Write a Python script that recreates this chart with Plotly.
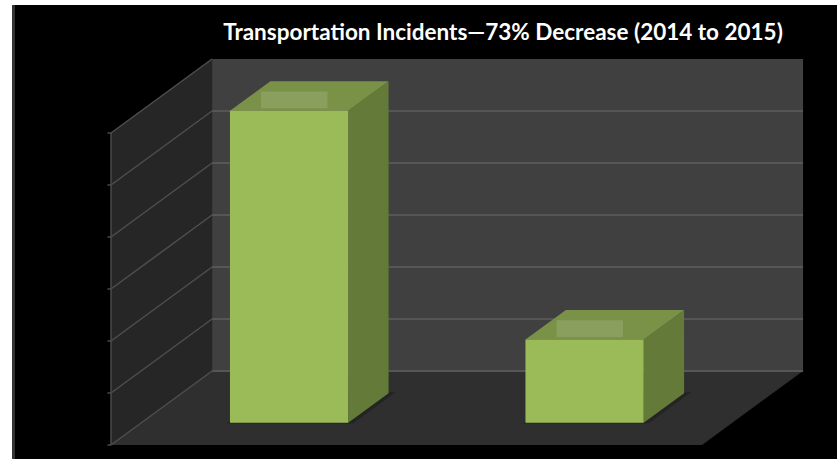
import plotly.graph_objects as go

# Data
categories = ["2014", "2015"]
incidents = [30, 8]
axis_ticks = [0, 5, 10, 15, 20, 25, 30]
title_text = "Transportation Incidents\u201473% Decrease (2014 to 2015)"

# Oblique 3D projection: depth z in [0, 1] (0 = front, 1 = back)
DX = 0.342   # horizontal shift per full depth (category units)
DY = 7.115   # vertical shift per full depth (value units)
Z0, Z1 = 0.30, 0.70   # bar depth extent
HALF_W = 0.20         # bar half width (category units)
Y_MAX = axis_ticks[-1]
N_CAT = len(categories)


def proj(x, y, z):
    return x + DX * z, y + DY * z


def poly(points, color, name):
    xs, ys = [], []
    for (x, y, z) in points:
        px, py = proj(x, y, z)
        xs.append(px)
        ys.append(py)
    xs.append(xs[0])
    ys.append(ys[0])
    return go.Scatter(x=xs, y=ys, mode="lines", fill="toself", fillcolor=color,
                      line=dict(width=0, color=color), hoverinfo="skip",
                      showlegend=False, name=name)


def seg_trace(segments, color, width):
    xs, ys = [], []
    for (a, b) in segments:
        p = proj(*a)
        q = proj(*b)
        xs += [p[0], q[0], None]
        ys += [p[1], q[1], None]
    return go.Scatter(x=xs, y=ys, mode="lines", line=dict(color=color, width=width),
                      hoverinfo="skip", showlegend=False)


fig = go.Figure()

# Walls and floor
fig.add_trace(poly([(0, 0, 1), (N_CAT, 0, 1), (N_CAT, Y_MAX, 1), (0, Y_MAX, 1)], "#404040", "back wall"))
fig.add_trace(poly([(0, 0, 0), (0, 0, 1), (0, Y_MAX, 1), (0, Y_MAX, 0)], "#262626", "side wall"))
fig.add_trace(poly([(0, 0, 0), (N_CAT, 0, 0), (N_CAT, 0, 1), (0, 0, 1)], "#2f2f2f", "floor"))

# Gridlines on the back wall and the side wall
back_grid = [((0, t, 1), (N_CAT, t, 1)) for t in axis_ticks[:-1]]
side_grid = [((0, t, 0), (0, t, 1)) for t in axis_ticks]
fig.add_trace(seg_trace(back_grid, "#565656", 2))
fig.add_trace(seg_trace(side_grid, "#4e4e4e", 1.5))

# Value axis line with tick marks
axis_segs = [((0, 0, 0), (0, Y_MAX, 0))] + [((-0.012, t, 0), (0, t, 0)) for t in axis_ticks]
fig.add_trace(seg_trace(axis_segs, "#4a4a4a", 1.5))

# Bars
FRONT = "#9bbb59"
SIDE = "#647a39"
TOP = "#7a9247"
HIGHLIGHT = "#8a9e5e"
for i, v in enumerate(incidents):
    c = i + 0.5
    xl, xr = c - HALF_W, c + HALF_W
    # soft shadow on the floor
    fig.add_trace(poly([(xl - 0.008, 0, Z0 - 0.01), (xr + 0.02, 0, Z0 - 0.01),
                        (xr + 0.02, 0, Z1 + 0.015), (xl - 0.008, 0, Z1 + 0.015)],
                       "rgba(0,0,0,0.22)", "shadow"))
    fig.add_trace(poly([(xr, 0, Z0), (xr, 0, Z1), (xr, v, Z1), (xr, v, Z0)], SIDE, categories[i]))
    fig.add_trace(poly([(xl, v, Z0), (xr, v, Z0), (xr, v, Z1), (xl, v, Z1)], TOP, categories[i]))
    # highlight patch on the top face
    fx, fy = proj(xl, v, Z0)
    fig.add_trace(go.Scatter(
        x=[fx + 0.105, fx + 0.33, fx + 0.33, fx + 0.105, fx + 0.105],
        y=[fy + 0.25, fy + 0.25, fy + 1.85, fy + 1.85, fy + 0.25],
        mode="lines", fill="toself", fillcolor=HIGHLIGHT, line=dict(width=0),
        hoverinfo="skip", showlegend=False))
    fig.add_trace(poly([(xl, 0, Z0), (xr, 0, Z0), (xr, v, Z0), (xl, v, Z0)], FRONT, categories[i]))

# Pixel-consistent axis ranges (plot area is 825 x 454 px)
PX_PER_CAT = 295.5
PX_PER_VAL = 10.4
x_lo = -99 / PX_PER_CAT
x_hi = x_lo + 825 / PX_PER_CAT
y_lo = -14 / PX_PER_VAL
y_hi = y_lo + 454 / PX_PER_VAL

fig.update_xaxes(range=[x_lo, x_hi], visible=False, fixedrange=True)
fig.update_yaxes(range=[y_lo, y_hi], visible=False, fixedrange=True)

fig.update_layout(
    width=837, height=459,
    margin=dict(l=12, r=0, t=5, b=0),
    paper_bgcolor="white",
    plot_bgcolor="black",
    showlegend=False,
    title=dict(text=title_text, x=0.601, xanchor="center", xref="container",
               y=1 - 32 / 459, yanchor="middle", yref="container",
               font=dict(family="Lato", size=22.5, color="white", weight="bold")),
    shapes=[dict(type="rect", xref="paper", yref="paper", x0=0, x1=3 / 825, y0=0, y1=1,
                 fillcolor="#333333", line=dict(width=0), layer="above")],
)

fig.write_html("out.html")
